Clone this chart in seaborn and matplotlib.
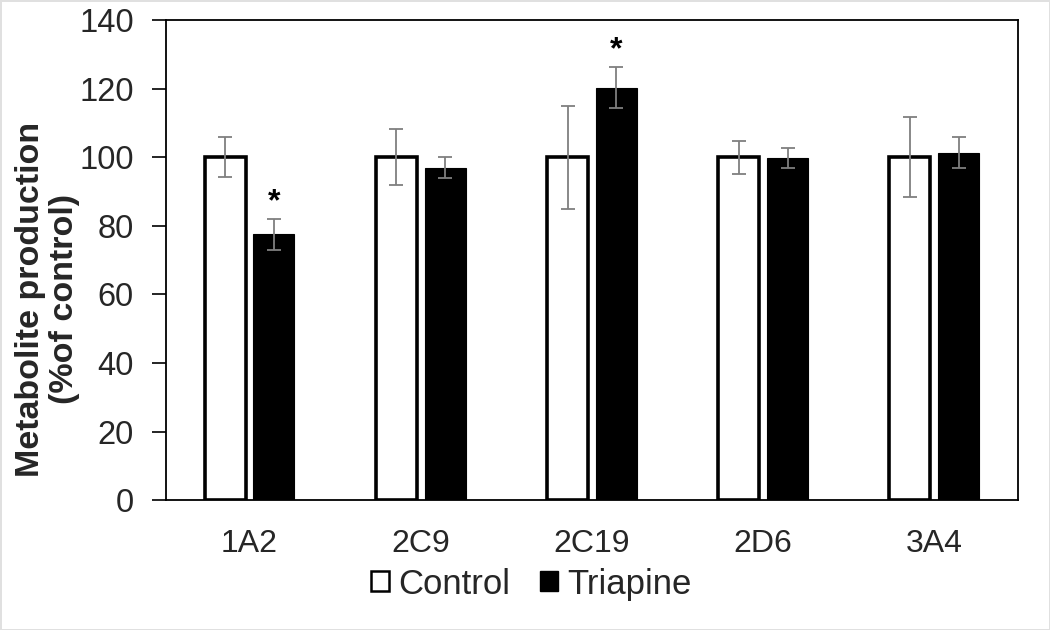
import numpy as np
import pandas as pd
import seaborn as sns
import matplotlib.pyplot as plt
from matplotlib.patches import Patch

# data
enzymes = ["1A2", "2C9", "2C19", "2D6", "3A4"]
control_vals = [100, 100, 100, 100, 100]
control_err = [5.8, 8.2, 15.0, 4.8, 11.7]
triapine_vals = [77.5, 97.0, 120.3, 99.8, 101.3]
triapine_err = [4.5, 3.0, 6.0, 3.0, 4.5]
signif = [True, False, True, False, False]

df = pd.DataFrame({
    "enzyme": enzymes * 2,
    "group": ["Control"] * 5 + ["Triapine"] * 5,
    "value": control_vals + triapine_vals,
    "err": control_err + triapine_err,
})

sns.set_style("white")
plt.rcParams["font.family"] = ["Liberation Sans", "DejaVu Sans"]

fig = plt.figure(figsize=(10.5, 6.3), dpi=100)
fig.patch.set_edgecolor("#e0e0e0")
fig.patch.set_linewidth(2)
ax = fig.add_axes([0.158, 0.206, 0.8115, 0.762])

sns.barplot(data=df, x="enzyme", y="value", hue="group", order=enzymes,
            hue_order=["Control", "Triapine"], palette=["white", "black"],
            width=0.57, gap=0.16, errorbar=None, ax=ax, legend=False)

# style bars and add the error bars at the bar centres
bars = [p for p in ax.patches if p.get_height() > 0]
bars.sort(key=lambda p: p.get_x())
for i, p in enumerate(bars):
    gi = i // 2
    is_ctrl = (i % 2 == 0)
    p.set_edgecolor("black")
    p.set_linewidth(2.6 if is_ctrl else 0.8)
    cx = p.get_x() + p.get_width() / 2
    v = p.get_height()
    e = control_err[gi] if is_ctrl else triapine_err[gi]
    ax.errorbar(cx, v, yerr=e, color="#7f7f7f", capsize=5, capthick=1.3,
                elinewidth=1.3, zorder=5)
    if not is_ctrl and signif[gi]:
        ax.text(cx, v + e + 0.5, "*", ha="center", va="bottom", fontsize=23,
                fontweight="bold", color="black")

ax.set_ylim(0, 140)
ax.set_yticks(range(0, 141, 20))
ax.set_xlabel("")
ax.set_ylabel("Metabolite production\n(%of control)", fontsize=24.5,
              fontweight="bold", linespacing=1.12)
ax.yaxis.set_label_coords(-0.101, 0.419)
ax.tick_params(axis="y", which="major", left=True, length=10, width=1.2,
               labelsize=23.5, direction="out", pad=13, color="black")
ax.tick_params(axis="x", bottom=False, labelsize=23, pad=17)
for s in ax.spines.values():
    s.set_visible(True)
    s.set_color("black")
    s.set_linewidth(1.3)

handles = [Patch(facecolor="white", edgecolor="black", linewidth=1.8),
           Patch(facecolor="black", edgecolor="black")]
fig.legend(handles, ["Control", "Triapine"], loc="center",
           bbox_to_anchor=(0.506, 0.073), ncol=2, frameon=False,
           fontsize=25, handlelength=0.52, handleheight=0.52,
           handletextpad=0.26, columnspacing=0.85, borderpad=0.1)

fig.savefig("out.png", dpi=100, edgecolor=fig.get_edgecolor())
